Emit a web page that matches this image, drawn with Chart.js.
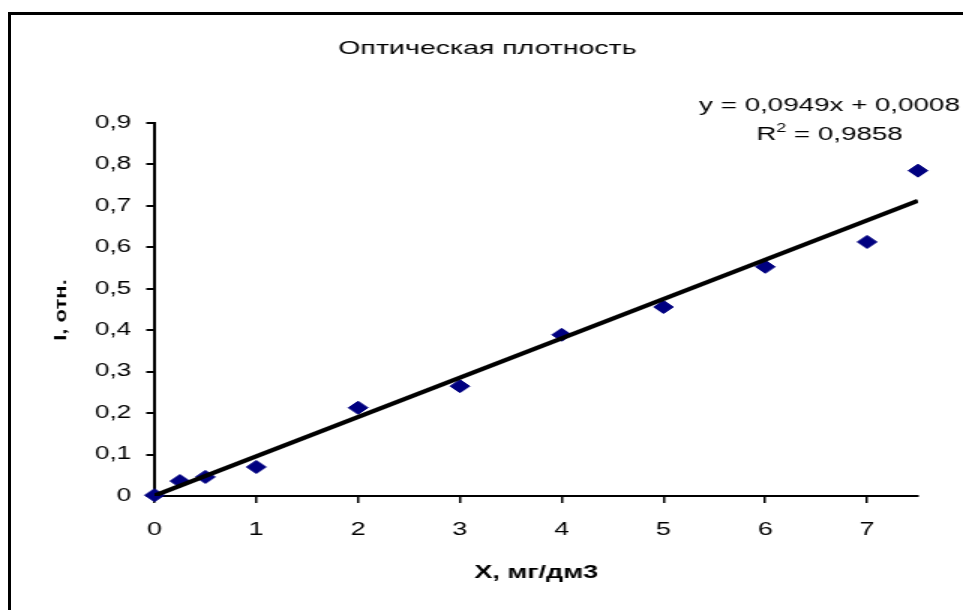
<!DOCTYPE html>
<html>
<head>
<meta charset="utf-8">
<script src="https://cdn.jsdelivr.net/npm/chart.js@4.4.1/dist/chart.umd.min.js"></script>
<style>
  html, body { margin: 0; padding: 0; background: #fff; overflow: hidden; }
  #frame { position: absolute; left: 8px; top: 12px; width: 2000px; height: 2000px; border: 3px solid #000; }
  #chart { position: absolute; left: 0; top: 0; }
</style>
</head>
<body>
<div id="frame"></div>
<canvas id="chart" width="642" height="610" style="width:963px;height:610px"></canvas>
<script>
// the picture is drawn 642px wide and stretched to 963px, like the source image
const concentration = [0, 0.25, 0.5, 1, 2, 3, 4, 5, 6, 7, 7.5];
const intensity = [0.002, 0.036, 0.046, 0.07, 0.213, 0.265, 0.389, 0.456, 0.553, 0.613, 0.785];
const xTickLabels = ["0", "1", "2", "3", "4", "5", "6", "7"];
const yTickLabels = ["0", "0,1", "0,2", "0,3", "0,4", "0,5", "0,6", "0,7", "0,8", "0,9"];
const slope = 0.0949;
const intercept = 0.0008;
const titleText = "Оптическая плотность";
const equationText = "y = 0,0949x + 0,0008";
const r2Text = " = 0,9858";

const FONT = '"Liberation Sans", Arial, sans-serif';

const points = concentration.map((x, i) => ({ x: x, y: intensity[i] }));
const xEnd = concentration[concentration.length - 1];
const trend = [
  { x: 0, y: intercept },
  { x: xEnd, y: slope * xEnd + intercept },
];

const textPlugin = {
  id: "texts",
  afterDraw(chart) {
    const c = chart.ctx;
    c.save();
    c.fillStyle = "#000";
    c.textBaseline = "middle";

    c.font = "19px " + FONT;
    c.textAlign = "center";
    c.fillText(titleText, 325, 49);

    // trendline label
    c.font = "18.5px " + FONT;
    c.fillText(equationText, 553, 106);
    c.textAlign = "left";
    const wR = c.measureText("R").width;
    c.font = "12px " + FONT;
    const w2 = c.measureText("2").width;
    c.font = "18.5px " + FONT;
    const wRest = c.measureText(r2Text).width;
    let x = 553 - (wR + w2 + wRest) / 2;
    c.fillText("R", x, 135);
    c.font = "12px " + FONT;
    c.fillText("2", x + wR, 129);
    c.font = "18.5px " + FONT;
    c.fillText(r2Text, x + wR + w2, 135);

    // y axis title, stretched along its own direction
    c.translate(41, 310);
    c.scale(0.72, 1.47);
    c.rotate(-Math.PI / 2);
    c.font = "bold 15px " + FONT;
    c.textAlign = "center";
    c.fillText("I, отн.", 0, 0);
    c.restore();
  },
};

new Chart(document.getElementById("chart"), {
  type: "scatter",
  data: {
    datasets: [
      {
        label: "trend",
        data: trend,
        showLine: true,
        borderColor: "#000",
        borderWidth: 4,
        pointRadius: 0,
        order: 0,
      },
      {
        label: "points",
        data: points,
        pointStyle: "rectRot",
        pointRadius: 6.5,
        backgroundColor: "#000080",
        borderColor: "#000080",
        borderWidth: 1,
        clip: false,
        order: 1,
      },
    ],
  },
  options: {
    responsive: false,
    devicePixelRatio: 1,
    animation: false,
    layout: { padding: { top: 123, right: 30, left: 0, bottom: 0 } },
    plugins: { legend: { display: false }, tooltip: { enabled: false } },
    scales: {
      x: {
        type: "linear",
        min: 0,
        max: 7.5,
        afterFit: (s) => { s.height = 114; },
        border: { color: "#000", width: 2 },
        grid: { drawOnChartArea: false, drawTicks: true, tickLength: 7, color: "#000", lineWidth: 1.5 },
        ticks: {
          stepSize: 1,
          includeBounds: false,
          maxRotation: 0,
          padding: 16,
          color: "#000",
          font: { family: FONT, size: 18 },
          callback: (v, i) => xTickLabels[i],
        },
        title: {
          display: true,
          text: "X, мг/дм3",
          color: "#000",
          font: { family: FONT, size: 18, weight: "bold" },
          padding: { top: 0, bottom: 26 },
        },
      },
      y: {
        type: "linear",
        min: 0,
        max: 0.9,
        afterFit: (s) => { s.width = 103; },
        border: { color: "#000", width: 2 },
        grid: { drawOnChartArea: false, drawTicks: true, tickLength: 5.5, color: "#000", lineWidth: 2 },
        ticks: {
          stepSize: 0.1,
          includeBounds: false,
          padding: 10,
          color: "#000",
          font: { family: FONT, size: 17.5 },
          callback: (v, i) => yTickLabels[i],
        },
      },
    },
  },
  plugins: [textPlugin],
});
</script>
</body>
</html>
